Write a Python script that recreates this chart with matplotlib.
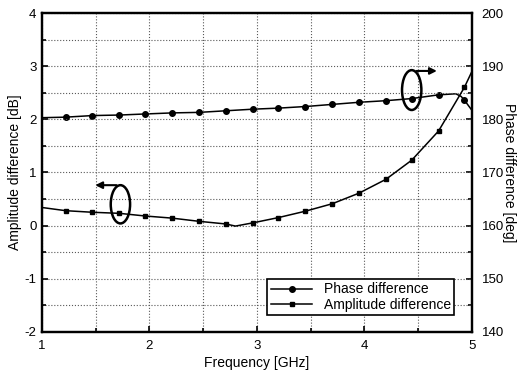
import matplotlib.pyplot as plt
from matplotlib.patches import Ellipse
from matplotlib.ticker import MultipleLocator

plt.rcParams['font.family'] = ['Liberation Sans', 'DejaVu Sans']
plt.rcParams['axes.unicode_minus'] = False

# measured curves (frequency in GHz)
freq_amp = [1.0, 1.22, 1.47, 1.72, 1.96, 2.21, 2.46, 2.71, 2.80, 2.96, 3.20,
            3.45, 3.70, 3.95, 4.20, 4.44, 4.69, 4.93, 5.0]
amp_db = [0.34, 0.28, 0.25, 0.23, 0.18, 0.14, 0.08, 0.03, -0.01, 0.05, 0.15,
          0.27, 0.41, 0.61, 0.87, 1.23, 1.78, 2.60, 2.90]
amp_marks = [1, 2, 3, 4, 5, 6, 7, 9, 10, 11, 12, 13, 14, 15, 16, 17]

freq_ph = [1.0, 1.22, 1.47, 1.72, 1.96, 2.21, 2.46, 2.71, 2.96, 3.20, 3.45,
           3.70, 3.95, 4.20, 4.44, 4.69, 4.85, 4.90, 4.93, 5.0]
phase_deg = [180.3, 180.4, 180.7, 180.8, 181.0, 181.2, 181.3, 181.6, 181.9, 182.1,
             182.4, 182.8, 183.2, 183.5, 183.9, 184.6, 184.8, 184.3, 183.6, 181.7]
ph_marks = [1, 2, 3, 4, 5, 6, 7, 8, 9, 10, 11, 12, 13, 14, 15, 18]

fig = plt.figure(figsize=(5.18, 3.72), dpi=100)
ax = fig.add_axes([0.081, 0.108, 0.830, 0.857])
ax2 = ax.twinx()

l_amp, = ax.plot(freq_amp, amp_db, color='black', lw=1.1, marker='s', ms=3.5,
                 markevery=amp_marks, label='Amplitude difference')
l_ph, = ax2.plot(freq_ph, phase_deg, color='black', lw=1.1, marker='o', ms=4,
                 markevery=ph_marks, label='Phase difference')

ax.set_xlim(1, 5)
ax.set_ylim(-2, 4)
ax2.set_ylim(140, 200)
ax.xaxis.set_major_locator(MultipleLocator(1))
ax.xaxis.set_minor_locator(MultipleLocator(0.5))
ax.yaxis.set_major_locator(MultipleLocator(1))
ax.yaxis.set_minor_locator(MultipleLocator(0.5))
ax2.yaxis.set_major_locator(MultipleLocator(10))
ax2.yaxis.set_minor_locator(MultipleLocator(5))

ax.grid(True, which='both', linestyle=':', color='0.35', lw=0.8)
ax.tick_params(which='both', direction='in', labelsize=9.5, width=1.2)
ax.tick_params(which='major', length=4)
ax.tick_params(which='minor', length=3)
ax.tick_params(axis='x', pad=6)
ax.tick_params(axis='y', pad=4)
ax2.tick_params(which='both', direction='in', labelsize=9.5, width=1.2, pad=7)
ax2.tick_params(which='major', length=4)
ax2.tick_params(which='minor', length=3)
for a in (ax, ax2):
    for s in a.spines.values():
        s.set_linewidth(1.6)

ax.set_xlabel('Frequency [GHz]', fontsize=10, labelpad=3)
ax.set_ylabel('Amplitude difference [dB]', fontsize=10, labelpad=2)
ax2.set_ylabel('Phase difference [deg]', fontsize=10, rotation=270, labelpad=9)

# ellipses with arrows pointing to the matching axis
ax.add_patch(Ellipse((1.73, 0.40), 0.18, 0.72, fill=False, ec='black', lw=1.8, zorder=5))
ax.annotate('', xy=(1.47, 0.76), xytext=(1.72, 0.76),
            arrowprops=dict(arrowstyle='-|>', color='black', lw=1.5, mutation_scale=10))
ax.add_patch(Ellipse((4.44, 2.55), 0.18, 0.75, fill=False, ec='black', lw=1.8, zorder=5))
ax.annotate('', xy=(4.70, 2.91), xytext=(4.46, 2.91),
            arrowprops=dict(arrowstyle='-|>', color='black', lw=1.5, mutation_scale=10))

leg = ax.legend([l_ph, l_amp], ['Phase difference', 'Amplitude difference'],
                loc='lower right', bbox_to_anchor=(0.975, 0.03), fontsize=10,
                fancybox=False, edgecolor='black', framealpha=1, handlelength=3,
                borderpad=0.25, labelspacing=0.1, handletextpad=0.8)
leg.get_frame().set_linewidth(1.2)
ax2.set_zorder(ax.get_zorder() - 1)
ax.patch.set_visible(False)

fig.savefig('out.png', dpi=100)
